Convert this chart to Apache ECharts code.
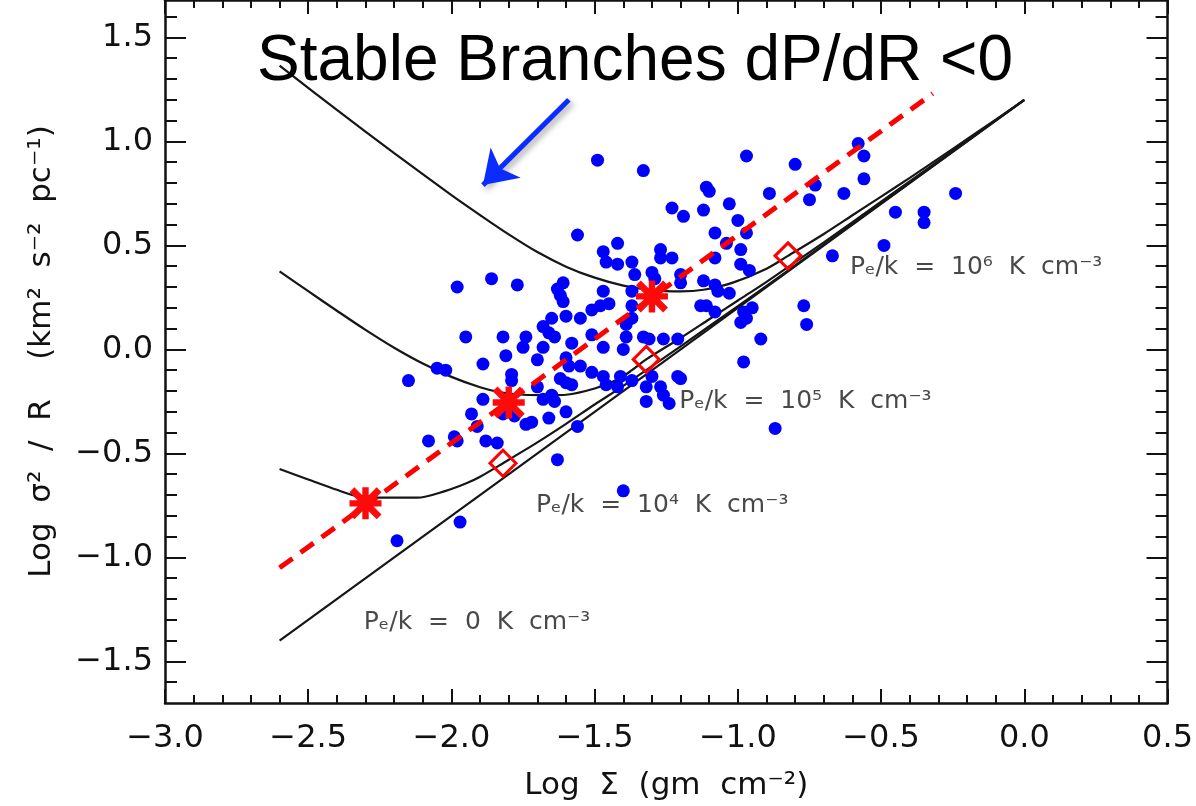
<!DOCTYPE html>
<html>
<head>
<meta charset="utf-8">
<script src="https://cdn.jsdelivr.net/npm/echarts@6/dist/echarts.min.js"></script>
<style>
  html, body { margin: 0; padding: 0; background: #ffffff; }
  #chart { width: 1196px; height: 806px; }
</style>
</head>
<body>
<div id="chart"></div>
<script>
// ---------------- data ----------------
const xMajorTicks = [-3.0, -2.5, -2.0, -1.5, -1.0, -0.5, 0.0, 0.5];
const xMinorTicks = [-2.9, -2.8, -2.7, -2.6, -2.4, -2.3, -2.2, -2.1, -1.9, -1.8, -1.7, -1.6,
  -1.4, -1.3, -1.2, -1.1, -0.9, -0.8, -0.7, -0.6, -0.4, -0.3, -0.2, -0.1, 0.1, 0.2, 0.3, 0.4];
const yMajorTicks = [-1.5, -1.0, -0.5, 0.0, 0.5, 1.0, 1.5];
const yMinorTicks = [-1.6, -1.4, -1.3, -1.2, -1.1, -0.9, -0.8, -0.7, -0.6, -0.4, -0.3, -0.2, -0.1,
  0.1, 0.2, 0.3, 0.4, 0.6, 0.7, 0.8, 0.9, 1.1, 1.2, 1.3, 1.4, 1.6];

// observed clouds (Log Sigma, Log sigma^2/R)
const cloudPoints = [
  [-1.49,0.91],[-1.33,0.86],[-0.97,0.93],[-0.80,0.89],[-0.58,0.99],[-0.56,0.93],[-0.56,0.82],
  [-0.73,0.79],[-0.75,0.72],[-0.63,0.75],[-0.24,0.75],[-0.45,0.66],[-0.35,0.66],[-0.35,0.61],
  [-0.49,0.50],[-0.67,0.45],[-1.11,0.78],[-1.10,0.76],[-0.89,0.75],[-1.23,0.68],[-1.19,0.64],
  [-1.12,0.67],[-1.03,0.70],[-1.00,0.62],[-1.08,0.56],[-0.97,0.56],[-1.04,0.51],[-0.99,0.48],
  [-1.56,0.55],[-1.42,0.51],[-1.47,0.47],[-1.46,0.42],[-1.42,0.41],[-1.37,0.42],[-1.36,0.36],
  [-1.27,0.48],[-1.27,0.44],[-1.23,0.44],[-1.30,0.37],[-1.29,0.34],[-1.20,0.36],[-1.20,0.32],
  [-1.08,0.44],[-1.12,0.33],[-1.08,0.31],[-1.07,0.28],[-1.03,0.27],[-0.99,0.41],[-0.96,0.38],
  [-1.98,0.30],[-1.86,0.34],[-1.77,0.31],[-1.61,0.32],[-1.63,0.29],[-1.62,0.26],[-1.61,0.23],
  [-1.47,0.28],[-1.37,0.28],[-1.45,0.22],[-1.48,0.21],[-1.51,0.19],[-1.37,0.21],[-1.37,0.15],
  [-1.39,0.12],[-1.65,0.15],[-1.60,0.16],[-1.55,0.15],[-1.68,0.11],[-1.66,0.08],[-1.64,0.06],
  [-1.95,0.06],[-1.82,0.06],[-1.74,0.06],[-1.75,0.01],[-1.51,0.07],[-1.39,0.06],[-1.33,0.06],
  [-1.31,0.05],[-1.26,0.05],[-1.21,0.05],[-1.58,0.03],[-1.47,0.01],[-1.40,0.00],
  [-1.13,0.21],[-1.11,0.21],[-1.08,0.18],[-0.98,0.18],[-0.95,0.20],[-0.97,0.15],[-0.99,0.13],
  [-0.77,0.21],[-0.76,0.12],[-0.92,0.05],[-0.98,-0.06],[-1.20,-0.14],
  [-1.68,0.01],[-1.70,-0.05],[-1.81,-0.03],[-1.89,-0.07],[-2.05,-0.09],[-2.02,-0.10],[-2.15,-0.15],
  [-1.79,-0.12],[-1.79,-0.15],[-1.60,-0.04],[-1.59,-0.08],[-1.55,-0.08],[-1.51,-0.11],[-1.47,-0.13],
  [-1.46,-0.17],[-1.62,-0.14],[-1.60,-0.16],[-1.58,-0.17],[-1.41,-0.13],[-1.42,-0.18],[-1.37,-0.15],
  [-1.32,-0.18],[-1.32,-0.25],[-1.30,-0.13],[-1.27,-0.18],[-1.26,-0.22],[-1.24,-0.26],[-1.21,-0.13],
  [-1.70,-0.18],[-1.89,-0.24],[-1.93,-0.31],[-1.91,-0.37],[-1.82,-0.31],[-1.78,-0.32],[-1.68,-0.24],
  [-1.64,-0.25],[-1.60,-0.30],[-1.74,-0.36],[-1.72,-0.35],[-1.66,-0.33],[-1.56,-0.37],[-2.08,-0.44],
  [-1.99,-0.42],[-1.98,-0.44],[-1.88,-0.44],[-1.84,-0.45],[-1.63,-0.53],[-1.40,-0.68],[-1.97,-0.83],
  [-2.19,-0.92],[-0.87,-0.38],[-1.65,-0.22]
];

// equilibrium curves for external pressures
const curvePe0 = [[-2.60,-1.40],[0.00,1.20]];
const curvePe4 = [[-2.60,-0.575],[-2.50,-0.625],[-2.40,-0.675],[-2.33,-0.705],[-2.25,-0.713],
  [-2.12,-0.713],[-2.02,-0.68],[-1.95,-0.645],[-1.90,-0.612],[-1.82,-0.547],[-1.70,-0.447],
  [-1.60,-0.358],[-1.50,-0.265],[-1.40,-0.175],[-1.20,0.015],[-1.00,0.208],[-0.80,0.404],
  [-0.50,0.702],[0.00,1.20]];
const curvePe5 = [[-2.60,0.375],[-2.50,0.28],[-2.40,0.186],[-2.30,0.094],[-2.20,0.008],
  [-2.10,-0.068],[-2.00,-0.132],[-1.90,-0.182],[-1.83,-0.206],[-1.75,-0.218],[-1.65,-0.220],
  [-1.60,-0.218],[-1.50,-0.188],[-1.42,-0.145],[-1.37,-0.10],[-1.32,-0.048],[-1.20,0.055],
  [-1.10,0.145],[-1.00,0.235],[-0.90,0.325],[-0.70,0.515],[-0.50,0.71],[0.00,1.20]];
const curvePe6 = [[-2.60,1.364],[-2.40,1.152],[-2.20,0.944],[-2.00,0.742],[-1.90,0.646],
  [-1.80,0.553],[-1.70,0.468],[-1.60,0.398],[-1.50,0.345],[-1.40,0.307],[-1.30,0.285],
  [-1.20,0.279],[-1.12,0.287],[-1.02,0.32],[-0.90,0.388],[-0.825,0.45],[-0.70,0.555],
  [-0.60,0.645],[-0.50,0.735],[-0.40,0.825],[-0.26,0.955],[-0.10,1.105],[0.00,1.20]];

const criticalLine = [[-2.60,-1.05],[-0.32,1.23]];
const starPoints = [[-2.30,-0.74],[-1.80,-0.255],[-1.30,0.255]];
const diamondPoints = [[-1.82,-0.547],[-1.32,-0.048],[-0.825,0.45]];
const arrowCoords = [[-1.59,1.20],[-1.89,0.79]];

const pressureLabels = [
  { value: [-0.609, 0.395], name: 'Pₑ/k  =  10⁶  K  cm⁻³' },
  { value: [-1.205, -0.251], name: 'Pₑ/k  =  10⁵  K  cm⁻³' },
  { value: [-1.705, -0.75], name: 'Pₑ/k  =  10⁴  K  cm⁻³' },
  { value: [-2.306, -1.311], name: 'Pₑ/k  =  0  K  cm⁻³' }
];
const titleText = 'Stable Branches dP/dR <0';
const xName = 'Log  Σ  (gm  cm⁻²)';
const yName = 'Log  σ²  /  R    (km²  s⁻²  pc⁻¹)';

// ---------------- chart ----------------
const fmt = v => (v < 0 ? '\u2212' : '') + Math.abs(v).toFixed(1);
const axisColor = '#111';
const tickFont = { fontFamily: 'DejaVu Sans', fontSize: 32, color: '#111' };

function xAx(position, major, len, withLabels) {
  return {
    type: 'value', position: position, min: -3.0, max: 0.5,
    axisLine: { show: major, onZero: false, lineStyle: { color: axisColor, width: 2.5 } },
    axisTick: { show: true, inside: true, length: len,
      customValues: major ? xMajorTicks : xMinorTicks,
      lineStyle: { color: axisColor, width: 2 } },
    axisLabel: withLabels ? Object.assign({ show: true, customValues: xMajorTicks, formatter: fmt, margin: 20 }, tickFont) : { show: false },
    splitLine: { show: false }
  };
}
function yAx(position, major, len, withLabels) {
  return {
    type: 'value', position: position, min: -1.7, max: 1.68,
    axisLine: { show: major, onZero: false, lineStyle: { color: axisColor, width: 2.5 } },
    axisTick: { show: true, inside: true, length: len,
      customValues: major ? yMajorTicks : yMinorTicks,
      lineStyle: { color: axisColor, width: 2 } },
    axisLabel: withLabels ? Object.assign({ show: true, customValues: yMajorTicks, formatter: fmt, margin: 12 }, tickFont) : { show: false },
    splitLine: { show: false }
  };
}

const xAxes = [xAx('bottom', true, 14, true), xAx('bottom', false, 8, false),
               xAx('top', true, 14, false), xAx('top', false, 8, false)];
xAxes[0].name = xName;
xAxes[0].nameLocation = 'middle';
xAxes[0].nameGap = 67;
xAxes[0].nameTextStyle = { fontFamily: 'DejaVu Sans', fontSize: 31, color: '#111' };

const yAxes = [yAx('left', true, 21, true), yAx('left', false, 12, false),
               yAx('right', true, 21, false), yAx('right', false, 12, false)];
yAxes[0].name = yName;
yAxes[0].nameLocation = 'middle';
yAxes[0].nameGap = 108;
yAxes[0].nameTextStyle = { fontFamily: 'DejaVu Sans', fontSize: 31, color: '#111' };

const starPath = 'path://M0,4 L10,4 L10,6 L0,6 Z M4,0 L6,0 L6,10 L4,10 Z M1.5,0 L10,8.5 L8.5,10 L0,1.5 Z M8.5,0 L10,1.5 L1.5,10 L0,8.5 Z';

function curve(data) {
  return { type: 'line', data: data, symbol: 'none', smooth: 0.3, silent: true,
    lineStyle: { color: '#161616', width: 2.2 }, z: 2 };
}

const option = {
  animation: false,
  backgroundColor: '#ffffff',
  title: { text: titleText, left: 252, top: 25,
    textStyle: { fontFamily: 'Liberation Sans', fontSize: 64, fontWeight: 'normal', color: '#000' } },
  grid: { left: 165, right: 27, top: -3, bottom: 100 },
  xAxis: xAxes,
  yAxis: yAxes,
  series: [
    curve(curvePe0), curve(curvePe4), curve(curvePe5), curve(curvePe6),
    { type: 'scatter', data: cloudPoints, symbol: 'circle', symbolSize: 13,
      itemStyle: { color: '#0000ff', opacity: 1 }, z: 3, silent: true },
    { type: 'line', data: criticalLine, symbol: 'none', silent: true,
      lineStyle: { color: '#ff0000', width: 5, type: [16, 10] }, z: 4 },
    { type: 'scatter', data: starPoints, symbol: starPath, symbolSize: 32,
      itemStyle: { color: '#ff0a0a', opacity: 1 }, z: 5, silent: true },
    { type: 'scatter', data: diamondPoints, symbol: 'diamond', symbolSize: 26,
      itemStyle: { color: 'rgba(0,0,0,0)', borderColor: '#ff0000', borderWidth: 3, opacity: 1 }, z: 5, silent: true },
    { type: 'lines', coordinateSystem: 'cartesian2d', silent: true,
      data: [{ coords: arrowCoords }],
      symbol: ['none', 'arrow'], symbolSize: 32,
      lineStyle: { color: '#0a2cff', width: 5, opacity: 1, curveness: 0,
        shadowColor: 'rgba(0,0,0,0.35)', shadowBlur: 6, shadowOffsetX: 3, shadowOffsetY: 3 }, z: 6 },
    { type: 'scatter', data: pressureLabels, symbolSize: 0, silent: true, z: 6,
      label: { show: true, position: 'right', distance: 0, formatter: '{b}',
        fontFamily: 'DejaVu Sans', fontSize: 25, color: '#1a1a1a' } }
  ]
};

const chart = echarts.init(document.getElementById('chart'), null, { renderer: 'canvas' });
chart.setOption(option);
</script>
</body>
</html>
